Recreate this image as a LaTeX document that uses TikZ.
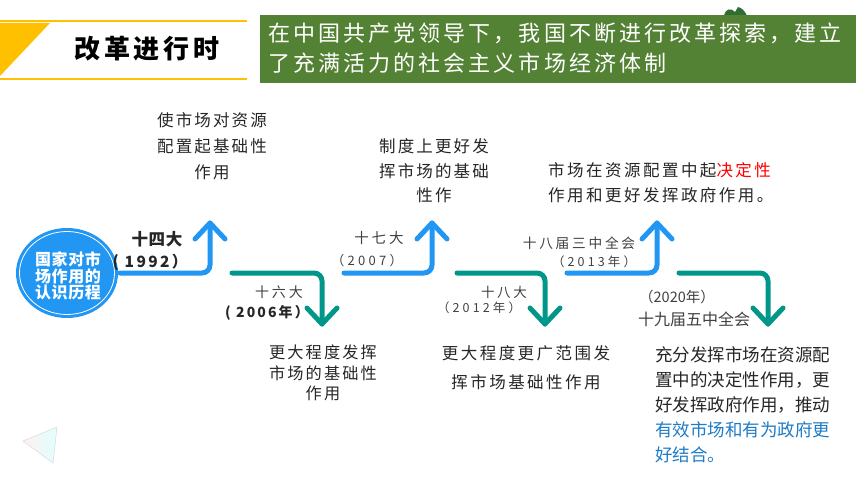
\documentclass[tikz,border=0pt]{standalone}
\usepackage{fontspec}
\setmainfont{Noto Sans CJK SC}
\newfontfamily\lsfont[LetterSpace=25]{Noto Sans CJK SC}
\newfontfamily\lsafont[LetterSpace=13]{Noto Sans CJK SC}
\newfontfamily\lsbfont[LetterSpace=15]{Noto Sans CJK SC}
\newfontfamily\lscfont[LetterSpace=4]{Noto Sans CJK SC}
\newfontfamily\lsdfont[LetterSpace=20]{Noto Sans CJK SC}
\newfontfamily\bnfont[LetterSpace=14]{Noto Sans CJK SC}
\usetikzlibrary{calc,shapes.geometric}
\definecolor{ablue}{HTML}{2196F3}
\definecolor{ateal}{HTML}{00968A}
\definecolor{bgreen}{HTML}{548235}
\definecolor{byellow}{HTML}{FFC000}
\definecolor{txt}{HTML}{262626}
\definecolor{lbl}{HTML}{404040}
\definecolor{hlblue}{HTML}{1E7BC6}
\definecolor{leafgreen}{HTML}{2F6E33}
\begin{document}
\begin{tikzpicture}[x=1pt,y=-1pt,
  barrow/.style={draw=ablue, line width=5pt, line cap=round, line join=round, rounded corners=8pt},
  tarrow/.style={draw=ateal, line width=5pt, line cap=round, line join=round, rounded corners=8pt},
  bchev/.style={draw=ablue, line width=5pt, line cap=round, line join=round},
  tchev/.style={draw=ateal, line width=5pt, line cap=round, line join=round},
  blocktxt/.style={inner sep=0pt, text=txt},
  yrlbl/.style={inner sep=0pt, text=lbl},
]
\useasboundingbox (0,0) rectangle (860,484);

% header
\fill[byellow] (0,23) -- (50,23) -- (0,76) -- cycle;
\draw[byellow, line width=1.6pt] (0,21) -- (247,21);
\draw[byellow, line width=1.6pt] (0,79) -- (247,79);
\node[inner sep=0pt, text=black, font=\lsbfont\bfseries\fontsize{26}{30}\selectfont] (title) at (147,49) {改革进行时};

\fill[leafgreen] (724,16) .. controls (725,9) and (731,7) .. (735,12) -- (738,7) .. controls (742,8) and (745,11) .. (747,16) -- cycle;
\fill[bgreen] (260,15) rectangle (856,83);
\node[inner sep=0pt, anchor=west, align=left, text=white, font=\bnfont\fontsize{22}{30}\selectfont] (banner) at (268,48)
  {在中国共产党领导下，我国不断进行改革探索，建立\\了充满活力的社会主义市场经济体制};

% circle
\node[ellipse, fill=ablue, minimum width=102pt, minimum height=90pt, inner sep=0pt] (circ) at (67,273) {};
\draw[white, line width=0.8pt] (circ.center) ellipse [x radius=47.5, y radius=41.5];
\node[inner sep=0pt, align=center, text=white, font=\lscfont\bfseries\fontsize{16}{16.5}\selectfont] (circtxt) at (68,276) {国家对市\\场作用的\\认识历程};

% coordinates of the steps
\coordinate (b1s) at (120,273); \coordinate (b1c) at (210,273); \coordinate (b1t) at (210,223);
\coordinate (t1s) at (232,273); \coordinate (t1c) at (322,273); \coordinate (t1t) at (322,324);
\coordinate (b2s) at (344,273); \coordinate (b2c) at (432,273); \coordinate (b2t) at (432,223);
\coordinate (t2s) at (457,273); \coordinate (t2c) at (545,273); \coordinate (t2t) at (545,324);
\coordinate (b3s) at (567,273); \coordinate (b3c) at (657,273); \coordinate (b3t) at (657,223);
\coordinate (t3s) at (679,273); \coordinate (t3c) at (768,273); \coordinate (t3t) at (768,324);

\foreach \n in {1,2,3}{
  \draw[barrow] (b\n s) -- (b\n c) -- (b\n t);
  \draw[bchev] ($(b\n t)+(-15,16)$) -- (b\n t) -- ($(b\n t)+(15,16)$);
  \draw[tarrow] (t\n s) -- (t\n c) -- (t\n t);
  \draw[tchev] ($(t\n t)+(-15,-16)$) -- (t\n t) -- ($(t\n t)+(15,-16)$);
}

% labels
\node[yrlbl, text=txt, font=\lscfont\bfseries\fontsize{16.5}{18}\selectfont] (l1) at (157,239) {十四大};
\node[yrlbl, text=txt, font=\lsbfont\bfseries\fontsize{15.5}{18}\selectfont] (l2) at (150,262) {( 1992）};
\node[yrlbl, font=\lsdfont\fontsize{14}{16}\selectfont] (l3) at (279,292) {十六大};
\node[yrlbl, text=txt, font=\lsbfont\bfseries\fontsize{14}{16}\selectfont] (l4) at (267,313) {( 2006年）};
\node[yrlbl, font=\lsdfont\fontsize{14.5}{16}\selectfont] (l5) at (379,238) {十七大};
\node[yrlbl, font=\lsfont\fontsize{13}{16}\selectfont] (l6) at (367,261) {（2007）};
\node[yrlbl, font=\lsdfont\fontsize{13.5}{16}\selectfont] (l7) at (504,292) {十八大};
\node[yrlbl, font=\lsfont\fontsize{12.5}{16}\selectfont] (l8) at (479,308) {（2012年）};
\node[yrlbl, font=\lsdfont\fontsize{13.7}{16}\selectfont] (l9) at (579,243) {十八届三中全会};
\node[yrlbl, font=\lsfont\fontsize{12.5}{16}\selectfont] (l10) at (594,262) {（2013年）};
\node[yrlbl, font=\fontsize{14.5}{16}\selectfont] (l11) at (677,297) {（2020年）};
\node[yrlbl, font=\fontsize{16}{18}\selectfont] (l12) at (694,319) {十九届五中全会};

% text blocks
\node[blocktxt, align=center, font=\lsafont\fontsize{16.5}{26}\selectfont] (ta) at (212,146) {使市场对资源\\配置起基础性\\作用};
\node[blocktxt, align=center, font=\lsafont\fontsize{16.5}{24.5}\selectfont] (tb) at (434,171) {制度上更好发\\挥市场的基础\\性作};
\node[blocktxt, anchor=west, align=left, font=\lsbfont\fontsize{16.5}{25}\selectfont] (tc) at (548,182.5) {市场在资源配置中起\textcolor{red}{决定性}\\作用和更好发挥政府作用。};
\node[blocktxt, align=center, font=\lsafont\fontsize{16.2}{20.5}\selectfont] (td) at (323,373) {更大程度发挥\\市场的基础性\\作用};
\node[blocktxt, align=center, font=\lsbfont\fontsize{16.5}{29}\selectfont] (te) at (526,367.5) {更大程度更广范围发\\挥市场基础性作用};
\node[blocktxt, anchor=west, align=left, text=txt, font=\fontsize{17.5}{25}\selectfont] (tf) at (655,405)
  {充分发挥市场在资源配\\置中的决定性作用，更\\好发挥政府作用，推动\\\textcolor{hlblue}{有效市场和有为政府更}\\\textcolor{hlblue}{好结合。}};

% decoration
\shade[left color=red!6, right color=cyan!12, draw=gray!30, line width=0.5pt] (23,441) -- (57,427) -- (53,463) -- cycle;
\end{tikzpicture}
\end{document}
